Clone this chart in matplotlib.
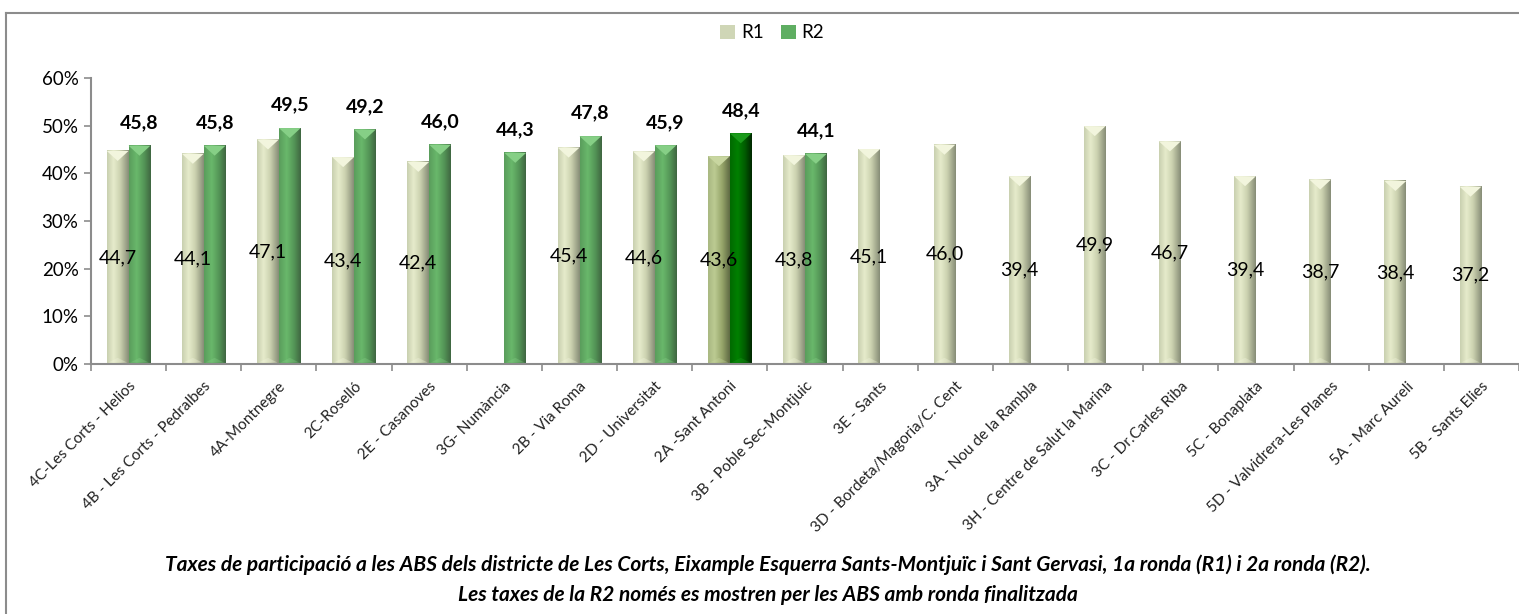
import numpy as np
import matplotlib
matplotlib.use("Agg")
import matplotlib.pyplot as plt
from matplotlib.colors import LinearSegmentedColormap
from matplotlib.patches import Patch, Polygon
from matplotlib.lines import Line2D

plt.rcParams["font.family"] = ["Lato", "DejaVu Sans"]

categories = ["4C-Les Corts - Helios", "4B - Les Corts - Pedralbes", "4A-Montnegre",
              "2C-Roselló", "2E - Casanoves", "3G- Numància", "2B - Via Roma",
              "2D - Universitat", "2A -Sant Antoni", "3B - Poble Sec-Montjuic",
              "3E - Sants", "3D - Bordeta/Magoria/C. Cent", "3A - Nou de la Rambla",
              "3H - Centre de Salut la Marina", "3C - Dr.Carles Riba", "5C - Bonaplata",
              "5D - Valvidrera-Les Planes", "5A - Marc Aureli", "5B - Sants Elies"]
r1 = [44.7, 44.1, 47.1, 43.4, 42.4, None, 45.4, 44.6, 43.6, 43.8,
      45.1, 46.0, 39.4, 49.9, 46.7, 39.4, 38.7, 38.4, 37.2]
r2 = [45.8, 45.8, 49.5, 49.2, 46.0, 44.3, 47.8, 45.9, 48.4, 44.1,
      None, None, None, None, None, None, None, None, None]
highlight = "2A -Sant Antoni"

cm_r1 = LinearSegmentedColormap.from_list("r1", [(0, "#c9d0b0"), (0.3, "#e6ebcb"), (0.6, "#ccd2b0"), (1, "#878d77")])
cm_r2 = LinearSegmentedColormap.from_list("r2", [(0, "#5a9d5c"), (0.35, "#69b86b"), (0.7, "#539456"), (1, "#3f6641")])
cm_r1h = LinearSegmentedColormap.from_list("r1h", [(0, "#a9b882"), (0.3, "#bccb92"), (0.65, "#96a56a"), (1, "#5f6a44")])
cm_r2h = LinearSegmentedColormap.from_list("r2h", [(0, "#006a00"), (0.35, "#008000"), (0.7, "#005a00"), (1, "#002800")])

fig = plt.figure(figsize=(15.19, 6.14), dpi=100)
ax = fig.add_axes([91 / 1519, 250 / 614, 1428 / 1519, 286 / 614])

w = 0.29
grad = np.linspace(0, 1, 64).reshape(1, -1)
tri_h = 2.1


def draw_bar(x, v, cmap, top):
    x0, x1 = x - w / 2, x + w / 2
    ax.imshow(grad, cmap=cmap, extent=[x0, x1, 0, v], aspect="auto", zorder=2, interpolation="bilinear")
    ax.add_patch(Polygon([[x0, v], [x1, v], [x, v - tri_h]], closed=True, facecolor=top, edgecolor="none", zorder=3))
    ax.add_patch(Polygon([[x0 + 0.02, 0.3], [x1 - 0.02, 0.3], [x, 1.3]], closed=True, facecolor=top, alpha=0.35, edgecolor="none", zorder=3))


for i, cat in enumerate(categories):
    hl = cat == highlight
    if r1[i] is not None:
        draw_bar(i - w / 2, r1[i], cm_r1h if hl else cm_r1, "#c8d6a0" if hl else "#f2f5dd")
        ax.text(i - w / 2, r1[i] / 2, f"{r1[i]:.1f}".replace(".", ","), ha="center", va="center",
                fontsize=14, color="black", zorder=5)
    if r2[i] is not None:
        draw_bar(i + w / 2, r2[i], cm_r2h if hl else cm_r2, "#1a9a1a" if hl else "#86cf86")
        ax.annotate(f"{r2[i]:.1f}".replace(".", ","), (i + w / 2, r2[i]), xytext=(0, 16.5),
                    textcoords="offset points", ha="center", va="center", fontsize=14,
                    fontweight="bold", color="black", zorder=5)

ax.set_xlim(-0.5, len(categories) - 0.5)
ax.set_ylim(0, 60)
ax.set_yticks(range(0, 61, 10))
ax.set_yticklabels([f"{t}%" for t in range(0, 61, 10)], fontsize=13.5)
ax.set_xticks(range(len(categories)))
ax.set_xticklabels(categories, rotation=45, ha="right", rotation_mode="anchor", fontsize=11, color="#222222")
ax.set_xticks(np.arange(-0.5, len(categories), 1), minor=True)
ax.tick_params(axis="x", which="major", length=0, pad=11)
ax.tick_params(axis="x", which="minor", length=5, color="#8c8c8c", width=1.2)
ax.tick_params(axis="y", length=5, color="#8c8c8c", width=1.2, pad=4)
for s in ["top", "right"]:
    ax.spines[s].set_visible(False)
for s in ["left", "bottom"]:
    ax.spines[s].set_color("#8c8c8c")
    ax.spines[s].set_linewidth(1.5)

handles = [Patch(facecolor="#cfd6b6", edgecolor="none", label="R1"),
           Patch(facecolor="#5fae62", edgecolor="none", label="R2")]
fig.legend(handles=handles, loc="center", bbox_to_anchor=(772 / 1519, 1 - 33 / 614), ncol=2,
           frameon=False, fontsize=13.5, handlelength=0.8, handleheight=0.8, handletextpad=0.3,
           columnspacing=0.9)

fig.text(768 / 1519, 1 - 565 / 614,
         "Taxes de participació a les ABS dels districte de Les Corts, Eixample Esquerra Sants-Montjuïc i Sant Gervasi, 1a ronda (R1) i 2a ronda (R2).",
         ha="center", va="center", fontsize=15, fontweight="bold", style="italic")
fig.text(768 / 1519, 1 - 595 / 614,
         "Les taxes de la R2 només es mostren per les ABS amb ronda finalitzada",
         ha="center", va="center", fontsize=15, fontweight="bold", style="italic")

# outer frame (only left and top edges visible)
fig.add_artist(Line2D([6.5 / 1519, 6.5 / 1519], [0, 1 - 12.5 / 614], color="#8c8c8c", lw=1.5))
fig.add_artist(Line2D([6.5 / 1519, 1], [1 - 12.5 / 614, 1 - 12.5 / 614], color="#8c8c8c", lw=1.5))

fig.savefig("out.png", dpi=100)
